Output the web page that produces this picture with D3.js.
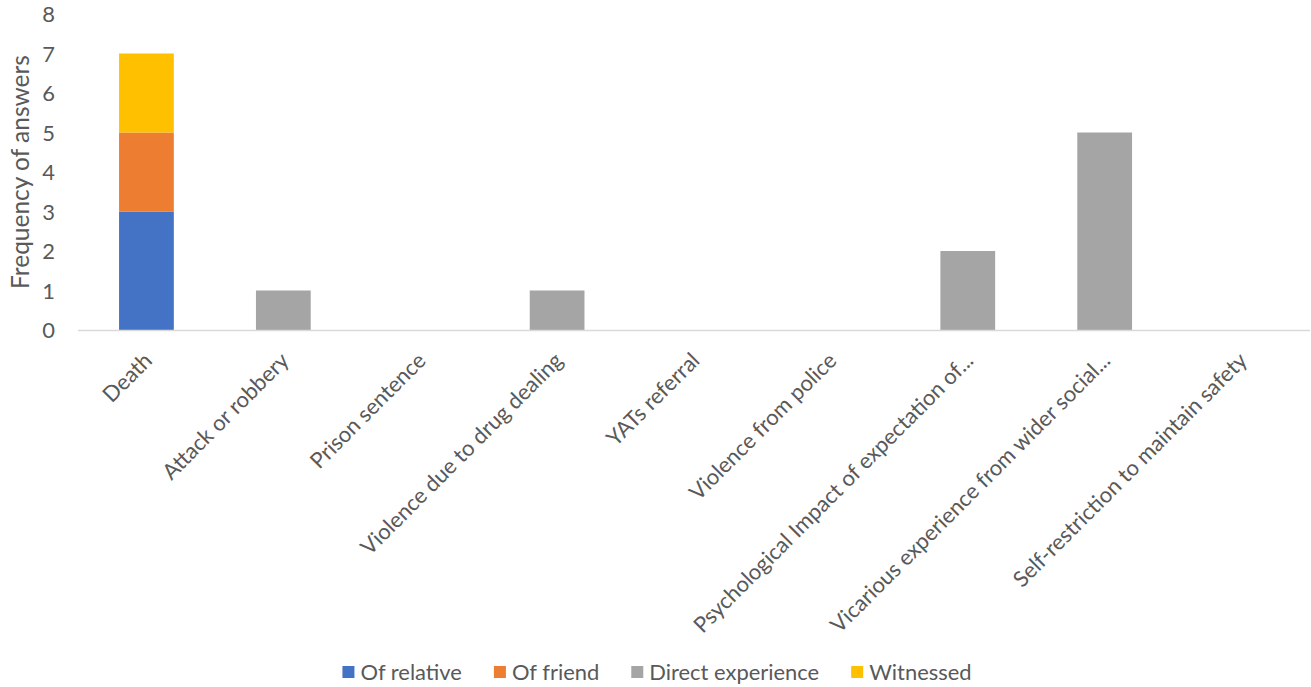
<!DOCTYPE html>
<html>
<head>
<meta charset="utf-8">
<script src="https://cdn.jsdelivr.net/npm/d3@7/dist/d3.min.js"></script>
<style>
  html, body { margin: 0; padding: 0; background: #fff; }
  svg { display: block; }
  text { font-family: Lato, "Open Sans", sans-serif; fill: #595959; }
</style>
</head>
<body>
<svg id="chart" width="1311" height="687"></svg>
<script>
const categories = [
  "Death",
  "Attack or robbery",
  "Prison sentence",
  "Violence due to drug dealing",
  "YATs referral",
  "Violence from police",
  "Psychological Impact of expectation of...",
  "Vicarious experience from wider social...",
  "Self-restriction to maintain safety"
];
const seriesNames = ["Of relative", "Of friend", "Direct experience", "Witnessed"];
const seriesColors = ["#4472C4", "#ED7D31", "#A5A5A5", "#FFC000"];
const ofRelative       = [3, 0, 0, 0, 0, 0, 0, 0, 0];
const ofFriend         = [2, 0, 0, 0, 0, 0, 0, 0, 0];
const directExperience = [0, 1, 0, 1, 0, 0, 2, 5, 0];
const witnessed        = [2, 0, 0, 0, 0, 0, 0, 0, 0];
const yTicks = [0, 1, 2, 3, 4, 5, 6, 7, 8];
const yTitle = "Frequency of answers";

(function () {
const svg = d3.select("#chart");

function fitSize(str, target) {
  const p = svg.append("text").attr("font-size", 100).text(str);
  const w = p.node().getComputedTextLength();
  p.remove();
  return 100 * target / w;
}
const fs = Math.min(26, Math.max(18, fitSize("Direct experience", 170)));
const fsTitle = Math.min(30, Math.max(18, fitSize(yTitle, 234)));
const fsCat = fs;

const mLeft = 78, mRight = 1310, mTop = 14, mBottom = 330;

const table = categories.map((c, i) => ({
  cat: c,
  "Of relative": ofRelative[i],
  "Of friend": ofFriend[i],
  "Direct experience": directExperience[i],
  "Witnessed": witnessed[i]
}));
const stacked = d3.stack().keys(seriesNames)(table);

const x = d3.scaleBand().domain(categories).range([mLeft, mRight]).paddingInner(0.6).paddingOuter(0.3);
const y = d3.scaleLinear().domain([0, 8]).range([mBottom, mTop]);
const color = d3.scaleOrdinal().domain(seriesNames).range(seriesColors);

svg.append("g").selectAll("g").data(stacked).join("g")
  .attr("fill", d => color(d.key))
  .selectAll("rect").data(d => d).join("rect")
  .attr("x", d => x(d.data.cat))
  .attr("width", x.bandwidth())
  .attr("y", d => y(d[1]))
  .attr("height", d => y(d[0]) - y(d[1]));

svg.append("line")
  .attr("x1", mLeft).attr("x2", mRight)
  .attr("y1", y(0) + 0.5).attr("y2", y(0) + 0.5)
  .attr("stroke", "#D9D9D9").attr("stroke-width", 1.5);

const yAxis = d3.axisLeft(y).tickValues(yTicks).tickSize(0).tickPadding(0).tickFormat(d3.format("d"));
const gy = svg.append("g").attr("transform", `translate(55,0)`).call(yAxis);
gy.select(".domain").remove();
gy.selectAll("text").attr("font-size", fs).attr("font-family", "Lato").attr("fill", "#595959").attr("dy", "0.35em");

svg.append("g").selectAll("text").data(categories).join("text")
  .attr("text-anchor", "end")
  .attr("font-size", fsCat)
  .attr("transform", d => `translate(${x(d) + x.bandwidth() / 2 + 7},${362}) rotate(-45)`)
  .text(d => d);

svg.append("text")
  .attr("text-anchor", "middle")
  .attr("font-size", fsTitle)
  .attr("transform", `translate(29,${(mTop + mBottom) / 2}) rotate(-90)`)
  .text(yTitle);

const lg = svg.append("g");
const sw = 12, gapText = 6, gapItem = 32;
const items = seriesNames.map(n => {
  const t = lg.append("text").attr("font-size", fs).attr("dy", "0.35em").text(n);
  return { n, t, w: t.node().getComputedTextLength() };
});
const total = d3.sum(items, d => sw + gapText + d.w) + gapItem * (items.length - 1);
let cx = 657 - total / 2;
const ly = 672;
items.forEach(it => {
  lg.append("rect").attr("x", cx).attr("y", ly - sw / 2).attr("width", sw).attr("height", sw).attr("fill", color(it.n));
  it.t.attr("x", cx + sw + gapText).attr("y", ly);
  cx += sw + gapText + it.w + gapItem;
});
})();
</script>
</body>
</html>
